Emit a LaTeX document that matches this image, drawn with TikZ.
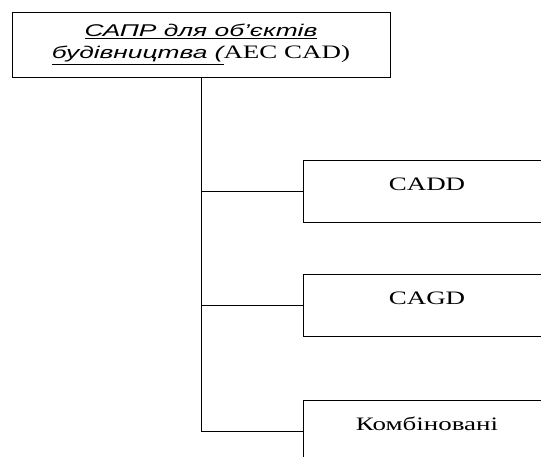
\documentclass[tikz,border=0pt]{standalone}
\usepackage{fontspec}
\setmainfont{Liberation Serif}
\newfontfamily\italsans{Liberation Sans}
\usetikzlibrary{positioning}

\newcommand{\wide}[1]{\scalebox{1.42}[1]{#1}}
\newcommand{\capit}[1]{\scalebox{1.55}[1]{\italsans\itshape\fontsize{17}{22}\selectfont\underline{#1}}}

\begin{document}
\begin{tikzpicture}[x=1pt,y=-1pt,line width=0.9pt,
  box/.style={draw,rectangle,minimum width=248pt,minimum height=62pt,inner sep=0pt,
    font=\fontsize{19}{22}\selectfont,text height=12pt,text depth=14pt},
  topbox/.style={draw,rectangle,minimum width=378pt,minimum height=65pt,inner sep=0pt,
    align=center,font=\fontsize{19}{22}\selectfont}]
  \useasboundingbox (0,0) rectangle (541,456);
  \clip (0,0) rectangle (541,456);
  \node[topbox] (sapr) at (201,44.5) {\capit{САПР для об’єктів}\\ \capit{будівництва (}\wide{AEC CAD)}};
  \node[box] (cadd) at (427,191.5) {\wide{CADD}};
  \node[box] (cagd) [below=51pt of cadd] {\wide{CAGD}};
  \node[box] (komb) [below=63pt of cagd] {\wide{Комбіновані}};
  \draw (sapr.south) |- (komb.west);
  \foreach \n in {cadd,cagd}
    \draw (sapr.south |- \n.west) -- (\n.west);
\end{tikzpicture}
\end{document}
